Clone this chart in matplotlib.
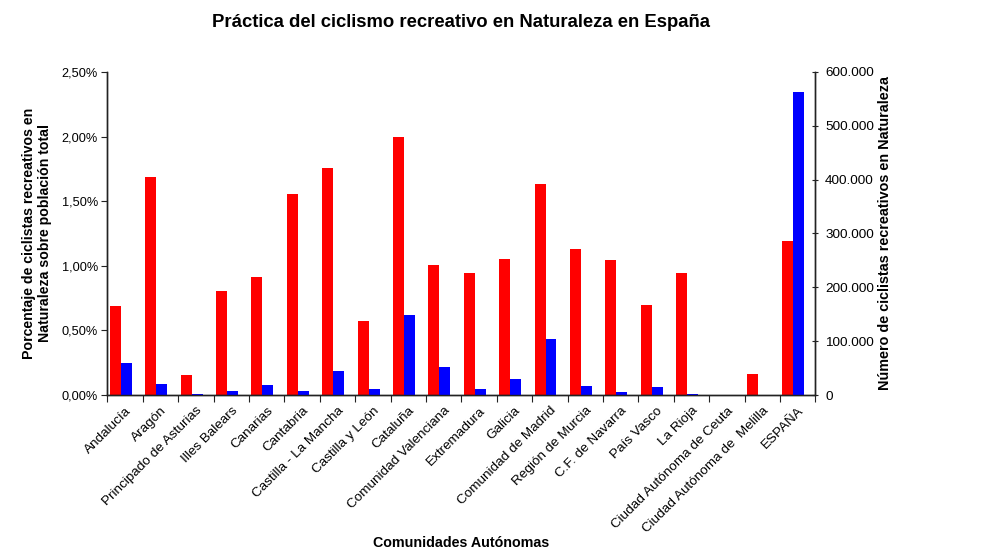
import matplotlib
matplotlib.use("Agg")
import matplotlib.pyplot as plt
import matplotlib.transforms as mtransforms
import numpy as np
from matplotlib.ticker import FuncFormatter, MultipleLocator

plt.rcParams['font.family'] = ['Liberation Sans', 'DejaVu Sans']

categories = ["Andalucía", "Aragón", "Principado de Asturias", "Illes Balears", "Canarias",
              "Cantabria", "Castilla - La Mancha", "Castilla y León", "Cataluña",
              "Comunidad Valenciana", "Extremadura", "Galicia", "Comunidad de Madrid",
              "Región de Murcia", "C.F. de Navarra", "País Vasco", "La Rioja",
              "Ciudad Autónoma de Ceuta", "Ciudad Autónoma de  Melilla", "ESPAÑA"]

porcentaje = [0.690, 1.689, 0.155, 0.806, 0.914, 1.557, 1.759, 0.573, 1.999, 1.007,
              0.945, 1.054, 1.635, 1.131, 1.046, 0.697, 0.945, 0.0, 0.163, 1.193]

numero = [59500, 20450, 1900, 7400, 18600, 7400, 44600, 11150, 148760, 52070,
          11150, 29750, 104130, 16700, 5600, 14900, 1900, 0, 0, 563400]

fig = plt.figure(figsize=(9.86, 5.52), dpi=100)
ax = fig.add_axes([0.109, 0.2844, 0.718, 0.5852])
ax2 = ax.twinx()

x = np.arange(len(categories))
w = 0.31
ax.bar(x - 0.5 + 0.065 + w / 2, porcentaje, width=w, color="#FF0000", zorder=2)
ax2.bar(x - 0.5 + 0.065 + 1.5 * w, numero, width=w, color="#0000FF", zorder=2)

ax.set_xlim(-0.5, len(categories) - 0.5)
ax.set_ylim(0, 2.5)
ax2.set_ylim(0, 600000)

ax.yaxis.set_major_locator(MultipleLocator(0.5))
ax.yaxis.set_major_formatter(FuncFormatter(lambda v, p: f"{v:.2f}%".replace(".", ",")))
ax2.yaxis.set_major_locator(MultipleLocator(100000))
ax2.yaxis.set_major_formatter(FuncFormatter(lambda v, p: f"{int(round(v)):,}".replace(",", ".")))

ax.set_xticks(np.arange(len(categories) + 1) - 0.5)
ax.set_xticklabels([])
ax.set_xticks(x, minor=True)
labels = ax.set_xticklabels(categories, minor=True, rotation=45, ha="right", va="top",
                            rotation_mode="anchor", fontsize=9.7)
offset = mtransforms.ScaledTranslation(-5 / 100, 0, fig.dpi_scale_trans)
for lbl in labels:
    lbl.set_transform(lbl.get_transform() + offset)
ax.tick_params(axis="x", which="minor", length=0, pad=7)
ax.tick_params(axis="x", which="major", length=5, direction="out", color="#222222")

ax.tick_params(axis="y", labelsize=9.2, length=4, direction="out", color="#222222", pad=3)
ax2.tick_params(axis="y", labelsize=9.7, length=4, direction="inout", color="#222222", pad=5)

for a in (ax, ax2):
    a.spines["top"].set_visible(False)
    for s in ("left", "right", "bottom"):
        a.spines[s].set_color("#222222")
        a.spines[s].set_linewidth(1.0)

ax.set_ylabel("Porcentaje de ciclistas recreativos en\nNaturaleza sobre población total",
              fontsize=10.2, fontweight="bold", labelpad=7)
ax2.set_ylabel("Número de ciclistas recreativos en Naturaleza",
               fontsize=10.4, fontweight="bold", labelpad=3)
fig.text(0.468, 0.0163, "Comunidades Autónomas", ha="center", va="center",
         fontsize=10.3, fontweight="bold")
fig.text(0.468, 0.960, "Práctica del ciclismo recreativo en Naturaleza en España",
         ha="center", va="center", fontsize=13.3, fontweight="bold")

fig.savefig("out.png", dpi=100)
